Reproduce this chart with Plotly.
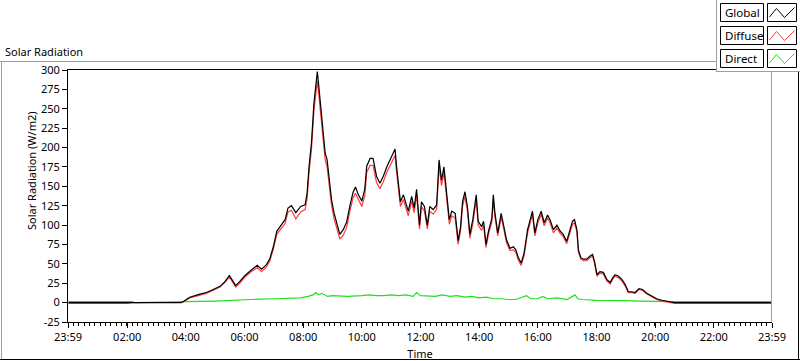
import plotly.graph_objects as go

# ---------------- data ----------------
time_labels = ["23:59", "02:00", "04:00", "06:00", "08:00", "10:00", "12:00",
               "14:00", "16:00", "18:00", "20:00", "22:00", "23:59"]
y_ticks = [-25, 0, 25, 50, 75, 100, 125, 150, 175, 200, 225, 250, 275, 300]

ghi_times = [
    "00:00", "02:00", "02:10", "03:00", "03:50", "03:54", "04:08", "04:29", "04:42", "04:56",
    "05:10", "05:20", "05:29", "05:37", "05:42", "05:50", "06:01", "06:14", "06:26", "06:35",
    "06:45", "06:52", "06:59", "07:06", "07:16", "07:23", "07:29", "07:36", "07:45", "07:55",
    "08:04", "08:08", "08:12", "08:17", "08:22", "08:26", "08:29", "08:32", "08:36", "08:40",
    "08:45", "08:49", "08:55", "08:58", "09:03", "09:10", "09:15", "09:22", "09:29", "09:36",
    "09:42", "09:47", "09:53", "10:00", "10:06", "10:10", "10:17", "10:23", "10:30", "10:37",
    "10:44", "10:51", "10:58", "11:04", "11:08", "11:11", "11:15", "11:19", "11:25", "11:30",
    "11:35", "11:42", "11:47", "11:52", "11:58", "12:02", "12:08", "12:14", "12:19", "12:26",
    "12:33", "12:38", "12:43", "12:48", "12:54", "12:59", "13:04", "13:11", "13:17", "13:22",
    "13:26", "13:31", "13:36", "13:41", "13:47", "13:54", "13:58", "14:05", "14:09", "14:14",
    "14:19", "14:26", "14:29", "14:32", "14:38", "14:45", "14:49", "14:56", "15:03", "15:10",
    "15:15", "15:20", "15:26", "15:32", "15:39", "15:44", "15:49", "15:54", "16:00", "16:07",
    "16:13", "16:20", "16:25", "16:32", "16:39", "16:46", "16:52", "16:59", "17:06", "17:11",
    "17:15", "17:20", "17:23", "17:28", "17:33", "17:40", "17:47", "17:52", "17:56", "18:01",
    "18:07", "18:14", "18:21", "18:28", "18:33", "18:38", "18:45", "18:52", "18:59", "19:05",
    "19:12", "19:19", "19:27", "19:34", "19:43", "19:53", "20:03", "20:14", "20:24", "20:31",
    "20:40", "23:59",
]
global_wm2 = [
    0, 0, 0, 0, 0, 1, 7, 11, 13, 17,
    21, 27, 35, 27, 22, 27, 35, 42, 48, 43,
    49, 57, 72, 92, 100, 107, 122, 125, 116, 124,
    126, 141, 175, 206, 257, 287, 298, 279, 253, 223,
    193, 184, 150, 133, 116, 98, 88, 94, 104, 126,
    142, 149, 139, 131, 146, 176, 186, 186, 163, 154,
    163, 175, 184, 191, 198, 176, 154, 130, 139, 128,
    118, 137, 122, 146, 100, 130, 124, 100, 124, 120,
    126, 184, 158, 175, 133, 107, 118, 115, 80, 98,
    130, 143, 124, 88, 107, 139, 105, 98, 105, 75,
    92, 109, 139, 117, 90, 115, 103, 81, 70, 72,
    68, 58, 51, 64, 94, 107, 118, 90, 107, 118,
    103, 113, 107, 94, 100, 92, 88, 79, 94, 105,
    107, 94, 68, 58, 56, 56, 60, 62, 53, 36,
    40, 39, 30, 26, 32, 36, 34, 30, 23, 14,
    14, 13, 18, 17, 12, 8, 5, 3, 1.5, 0.5,
    0, 0,
]
diffuse_wm2 = [
    -1, -1, 0, 0, 0, 0.5, 6, 10, 12, 16,
    20, 26, 33, 25, 20, 25, 33, 40, 45, 40,
    46, 54, 69, 88, 96, 102, 117, 119, 108, 117,
    120, 134, 168, 198, 247, 275, 286, 268, 243, 213,
    184, 175, 142, 126, 109, 91, 82, 87, 97, 119,
    135, 141, 132, 124, 138, 168, 177, 177, 155, 147,
    156, 168, 177, 184, 190, 169, 147, 124, 133, 122,
    112, 131, 116, 139, 95, 124, 118, 95, 118, 114,
    120, 176, 151, 168, 127, 101, 112, 109, 75, 93,
    124, 137, 118, 83, 102, 133, 100, 93, 100, 71,
    88, 104, 133, 112, 86, 110, 99, 77, 67, 68,
    65, 55, 48, 61, 90, 103, 114, 86, 103, 114,
    99, 109, 103, 90, 96, 89, 85, 76, 91, 101,
    103, 91, 65, 56, 54, 54, 58, 60, 51, 34,
    38, 37, 28, 24, 30, 34, 32, 28, 21, 13,
    13, 12, 17, 16, 11, 7, 4, 2, 1, -0.5,
    -1, -1,
]
direct_times = [
    "00:00", "02:10", "02:15", "03:54", "04:08", "04:29", "05:00", "05:30", "06:00", "06:30",
    "07:00", "07:30", "07:55", "08:10", "08:20", "08:26", "08:32", "08:38", "08:44", "08:50",
    "09:00", "09:30", "10:00", "10:15", "10:30", "10:45", "11:00", "11:15", "11:30", "11:45",
    "11:52", "12:00", "12:30", "12:45", "13:00", "13:15", "13:30", "13:45", "14:00", "14:15",
    "14:30", "14:45", "15:00", "15:15", "15:37", "15:45", "16:00", "16:10", "16:20", "16:40",
    "17:00", "17:16", "17:22", "17:30", "18:00", "18:30", "19:00", "19:30", "20:00", "20:30",
    "20:35", "23:59",
]
direct_wm2 = [
    1.3, 1.3, 0, 0.5, 1, 1.5, 2, 3, 4, 4.5,
    5, 6, 6, 8, 10, 13, 10, 12, 10, 8,
    9, 8, 9, 10, 9, 9, 10, 9, 10, 8,
    13, 9, 8, 10, 8, 9, 7, 8, 6, 7,
    5, 5, 4, 4, 9, 5, 5, 8, 5, 6,
    4, 10, 5, 4, 3, 3, 2.5, 2, 1.5, 0.5,
    1.3, 1.3,
]


def to_min(s):
    h, m = s.split(":")
    return int(h) * 60 + int(m)


tick_pos = [to_min(s) for s in time_labels]
tick_pos[0] = tick_pos[0] - 24 * 60  # previous day's 23:59

FONT = "Noto Sans"
BLACK = "#000000"
GREY = "#a0a0a0"
LW = 1.2

fig = go.Figure()
fig.add_trace(go.Scatter(x=[to_min(t) for t in direct_times], y=direct_wm2, mode="lines",
                         name="Direct", line=dict(color="#1fe01f", width=LW)))
fig.add_trace(go.Scatter(x=[to_min(t) for t in ghi_times], y=diffuse_wm2, mode="lines",
                         name="Diffuse", line=dict(color="#ff3c3c", width=LW)))
fig.add_trace(go.Scatter(x=[to_min(t) for t in ghi_times], y=global_wm2, mode="lines",
                         name="Global", line=dict(color=BLACK, width=LW)))

# plot area in pixels: x 68..772, y 70..322
L, R, T, B = 68, 772, 70, 322


def px(x):
    return (x - L) / (R - L)


def py(y):
    return (B - y) / (B - T)


shapes = []


def hline(y, x0, x1, color, layer="above"):
    shapes.append(dict(type="line", xref="paper", yref="paper", x0=px(x0), x1=px(x1),
                       y0=py(y), y1=py(y), line=dict(color=color, width=1), layer=layer))


def vline(x, y0, y1, color, layer="above"):
    shapes.append(dict(type="line", xref="paper", yref="paper", x0=px(x), x1=px(x),
                       y0=py(y0), y1=py(y1), line=dict(color=color, width=1), layer=layer))


# plot right border (grey)
vline(771.5, 70, 322, GREY)
# outer panel frame
hline(61.5, 0, 717, GREY)
vline(1.5, 61.5, 359.5, GREY)
hline(359.5, 0, 800, BLACK)
vline(798.5, 72, 359.5, BLACK)

# legend panel
shapes.append(dict(type="rect", xref="paper", yref="paper", x0=px(717), x1=px(801),
                   y0=py(-1), y1=py(72), fillcolor="white", line=dict(width=0), layer="above"))
vline(716.5, 0, 72, GREY)
hline(71.5, 716.5, 800, GREY)

annotations = []
legend_items = [("Global", BLACK), ("Diffuse", "#ff3c3c"), ("Direct", "#1fe01f")]
for i, (name, col) in enumerate(legend_items):
    top = 3.5 + 23 * i
    bot = top + 18
    for (x0, x1) in [(720.5, 763.5), (767.5, 796.5)]:
        shapes.append(dict(type="rect", xref="paper", yref="paper", x0=px(x0), x1=px(x1),
                           y0=py(bot), y1=py(top), line=dict(color=BLACK, width=1),
                           fillcolor="white", layer="above"))
    pts = [(769.5, top + 13.5), (776.5, top + 5), (784.5, top + 14), (794.5, top + 4)]
    path = "M " + " L ".join(f"{px(a):.5f},{py(b):.5f}" for a, b in pts)
    shapes.append(dict(type="path", xref="paper", yref="paper", path=path,
                       line=dict(color=col, width=1), layer="above"))
    annotations.append(dict(text=name, xref="paper", yref="paper", x=px(723), y=py(top + 9),
                            xanchor="left", yanchor="middle", showarrow=False,
                            font=dict(family=FONT, size=11.5, color=BLACK)))

annotations.append(dict(text="Solar Radiation", xref="paper", yref="paper", x=px(3), y=py(51),
                        xanchor="left", yanchor="middle", showarrow=False,
                        font=dict(family=FONT, size=11, color=BLACK)))
# y-axis title (placed where the reference has it, above the axis centre)
annotations.append(dict(text="Solar Radiation (W/m2)", xref="paper", yref="paper",
                        x=px(31), y=py(171), xanchor="center", yanchor="middle",
                        textangle=-90, showarrow=False,
                        font=dict(family=FONT, size=11, color=BLACK)))

fig.update_layout(
    width=800, height=361,
    margin=dict(l=L, r=800 - R, t=T, b=361 - B, pad=0),
    paper_bgcolor="white", plot_bgcolor="white",
    showlegend=False,
    font=dict(family=FONT, size=11, color=BLACK),
    shapes=shapes, annotations=annotations,
    xaxis=dict(
        range=[tick_pos[0], tick_pos[-1]],
        tickmode="array", tickvals=tick_pos, ticktext=time_labels,
        ticks="outside", ticklen=5, tickwidth=1, tickcolor=BLACK,
        ticklabelstandoff=0,
        minor=dict(tickmode="linear", tick0=tick_pos[0], dtick=120 / 11,
                   ticks="outside", ticklen=3, tickcolor=BLACK, tickwidth=1),
        showline=True, linecolor=BLACK, linewidth=1, mirror=True,
        showgrid=False, zeroline=False,
        title=dict(text="Time", standoff=9, font=dict(family=FONT, size=11, color=BLACK)),
        tickfont=dict(family=FONT, size=11, color=BLACK),
        automargin=False,
    ),
    yaxis=dict(
        range=[-25, 300],
        tickmode="array", tickvals=y_ticks, ticktext=[str(v) for v in y_ticks],
        ticks="outside", ticklen=5, tickwidth=1, tickcolor=BLACK,
        showline=True, linecolor=BLACK, linewidth=1,
        showgrid=False, zeroline=False,
        tickfont=dict(family=FONT, size=11, color=BLACK),
        automargin=False,
    ),
)

fig.write_html("out.html", config={"displayModeBar": False},
               post_script="document.body.style.margin='0';"
                           "document.body.style.overflow='hidden';")
